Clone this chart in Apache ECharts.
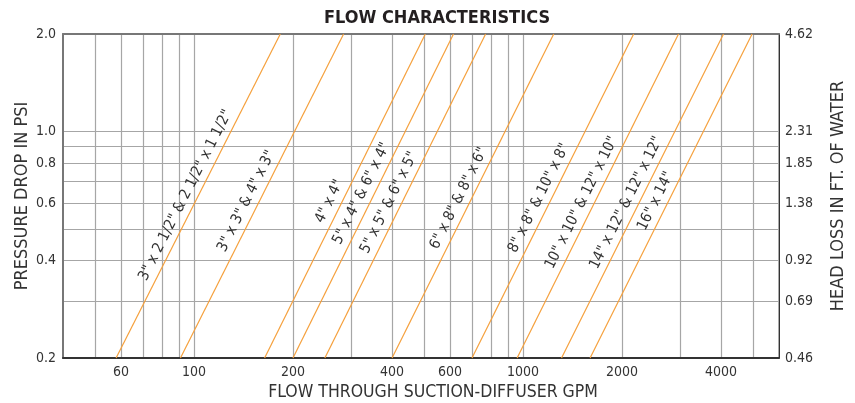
<!DOCTYPE html>
<html lang="en">
<head>
  <meta charset="UTF-8">
  <title>Flow characteristics</title>
  <script src="https://cdn.jsdelivr.net/npm/echarts@6/dist/echarts.min.js"></script>
</head>
<body style="margin: 0;">
<div id="main" style="width: 855px; height: 403px;"></div>
<script type="text/javascript">
  const FONT = "'Liberation Sans Narrow', 'Arial Narrow', 'DejaVu Sans Condensed', sans-serif"

  // suction-diffuser sizes, flow (GPM) where each line crosses 0.2 psi and 2.0 psi
  const sizes = [
    '3" x 2 1/2" & 2 1/2" x 1 1/2"',
    '3" x 3" & 4" x 3"',
    '4" x 4"',
    '5" x 4" & 6" x 4"',
    '5" x 5" & 6" x 5"',
    '6" x 8" & 8" x 6"',
    '8" x 8" & 10" x 8"',
    '10" x 10" & 12" x 10"',
    '14" x 12" & 12" x 12"',
    '16" x 14"'
  ]
  const flowLow = [58, 91, 164, 200, 250, 400, 700, 960, 1310, 1600]
  const flowHigh = [183, 285, 505, 615, 770, 1240, 2170, 2970, 4070, 4970]
  const psiLow = 0.2
  const psiHigh = 2.0

  // axes
  const flowRange = [40, 6000]
  const flowLabels = [60, 100, 200, 400, 600, 1000, 2000, 4000]
  const flowGrid = [50, 60, 70, 80, 90, 100, 200, 300, 400, 500, 600, 700, 800, 900, 1000, 2000, 3000, 4000, 5000]
  const psiLabels = [0.2, 0.4, 0.6, 0.8, 1.0, 2.0]
  const psiGrid = [0.3, 0.4, 0.5, 0.6, 0.7, 0.8, 0.9, 1.0]
  const headAt = [0.2, 0.3, 0.4, 0.6, 0.8, 1.0, 2.0]
  const headLabels = ['0.46', '0.69', '0.92', '1.38', '1.85', '2.31', '4.62']

  // where each size label sits along its line (px from the 0.2 psi end)
  const labelAlong = [82, 114, 146, 122, 112, 117, 113, 95, 95, 138]

  const lg = Math.log10
  const near = (a, b) => Math.abs(a - b) < 1e-6

  const myChart = echarts.init(document.getElementById('main'), null, {renderer: 'canvas'})

  const tickText = {color: '#333', fontFamily: FONT, fontSize: 14}
  const nameText = {color: '#333', fontFamily: FONT, fontSize: 18}
  const gridLine = {show: true, lineStyle: {color: '#a6a6a6', width: 1.2}}

  const series = sizes.map((name, i) => ({
    type: 'line',
    name: name,
    data: [],
    markLine: {
      silent: true,
      animation: false,
      symbol: ['none', 'none'],
      lineStyle: {color: '#f5a03c', width: 1.2, type: 'solid'},
      label: {
        show: true,
        position: 'insideStartTop',
        distance: [labelAlong[i], 4],
        formatter: name,
        color: '#333',
        fontFamily: FONT,
        fontSize: 15
      },
      emphasis: {disabled: true},
      data: [[
        {coord: [lg(flowLow[i]), lg(psiLow)]},
        {coord: [lg(flowHigh[i]), lg(psiHigh)]}
      ]]
    }
  }))

  const option = {
    animation: false,
    title: {
      text: 'FLOW CHARACTERISTICS',
      left: 432,
      top: 4,
      textAlign: 'center',
      textStyle: {color: '#231f20', fontFamily: FONT, fontWeight: 'bold', fontSize: 18}
    },
    grid: {
      left: 63, right: 76, top: 34, bottom: 45,
      outerBoundsMode: 'none',
      containLabel: false,
      show: true, borderColor: '#555', borderWidth: 1
    },
    xAxis: [{
      type: 'value',
      min: lg(flowRange[0]),
      max: lg(flowRange[1]),
      name: 'FLOW THROUGH SUCTION-DIFFUSER GPM',
      nameLocation: 'middle',
      nameGap: 24,
      nameTextStyle: Object.assign({}, nameText, {fontSize: 17.5, padding: [0, 0, 0, 24]}),
      axisLine: {show: true, onZero: false, lineStyle: {color: '#333', width: 2}},
      axisTick: {show: false, customValues: flowGrid.map(lg)},
      splitLine: gridLine,
      axisLabel: Object.assign({
        customValues: flowLabels.map(lg),
        margin: 7,
        formatter: v => String(Math.round(Math.pow(10, v)))
      }, tickText)
    }, {
      type: 'value',
      position: 'top',
      min: lg(flowRange[0]),
      max: lg(flowRange[1]),
      axisLine: {show: true, onZero: false, lineStyle: {color: '#777', width: 2}},
      axisTick: {show: false},
      axisLabel: {show: false},
      splitLine: {show: false}
    }],
    yAxis: [{
      type: 'value',
      min: lg(psiLow),
      max: lg(psiHigh),
      name: 'PRESSURE DROP IN PSI',
      nameLocation: 'middle',
      nameRotate: 90,
      nameGap: 32,
      nameMoveOverlap: false,
      nameTextStyle: nameText,
      axisLine: {show: true, onZero: false, lineStyle: {color: '#777', width: 2}},
      axisTick: {show: false, customValues: psiGrid.map(lg)},
      splitLine: gridLine,
      axisLabel: Object.assign({
        customValues: psiLabels.map(lg),
        margin: 7,
        formatter: v => Math.pow(10, v).toFixed(1)
      }, tickText)
    }, {
      type: 'value',
      position: 'right',
      min: lg(psiLow),
      max: lg(psiHigh),
      name: 'HEAD LOSS IN FT. OF WATER',
      nameLocation: 'middle',
      nameRotate: 90,
      nameGap: 50,
      nameTextStyle: nameText,
      axisLine: {show: true, onZero: false, lineStyle: {color: '#333', width: 1}},
      axisTick: {show: false},
      splitLine: {show: false},
      axisLabel: Object.assign({
        customValues: headAt.map(lg),
        margin: 6,
        formatter: v => {
          const k = headAt.findIndex(p => near(lg(p), v))
          return k >= 0 ? headLabels[k] : ''
        }
      }, tickText)
    }],
    series: series
  }

  myChart.setOption(option)
</script>
</body>
</html>
